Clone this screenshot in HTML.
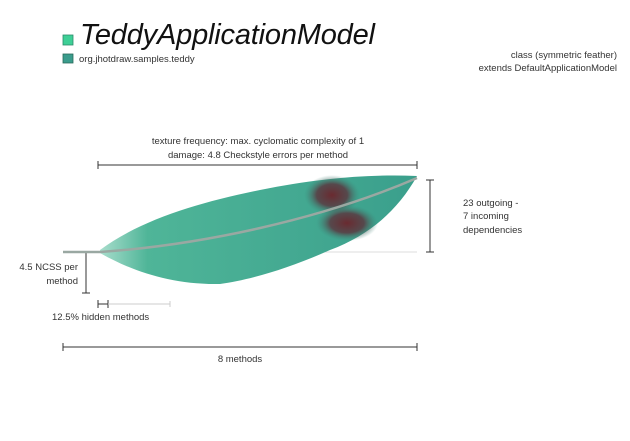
<!DOCTYPE html>
<html><head><style>
body{margin:0;background:#fff;width:630px;height:441px;overflow:hidden;font-family:"Liberation Sans",sans-serif;}
svg{display:block}
</style></head><body>
<svg width="630" height="441" viewBox="0 0 630 441" xmlns="http://www.w3.org/2000/svg">
<defs>
<radialGradient id="sp" cx="50%" cy="50%" r="50%">
<stop offset="0" stop-color="#6a2a30"/><stop offset="0.55" stop-color="#5a3840" stop-opacity="0.85"/><stop offset="1" stop-color="#3a8a7a" stop-opacity="0"/>
</radialGradient>
<linearGradient id="fg" x1="0" x2="1" y1="0" y2="0">
<stop offset="0" stop-color="#a8ddcc"/><stop offset="0.15" stop-color="#4fb598"/><stop offset="1" stop-color="#3a9f8c"/>
</linearGradient>
</defs>
<rect x="63" y="35" width="10" height="10" fill="#3ecf96" stroke="#2a8a6a" stroke-width="0.8"/>
<rect x="63" y="54" width="10" height="9" fill="#3a9c8c" stroke="#2a6a5a" stroke-width="0.8"/>
<text x="80" y="44" font-size="29" font-style="italic" fill="#111" textLength="295">TeddyApplicationModel</text>
<text x="79" y="62" font-size="9.5" fill="#333">org.jhotdraw.samples.teddy</text>
<text x="617" y="58" font-size="9.5" fill="#333" text-anchor="end">class (symmetric feather)</text>
<text x="617" y="71" font-size="9.5" fill="#333" text-anchor="end">extends DefaultApplicationModel</text>
<text x="258" y="144" font-size="9.5" fill="#333" text-anchor="middle">texture frequency: max. cyclomatic complexity of 1</text>
<text x="258" y="158" font-size="9.5" fill="#333" text-anchor="middle">damage: 4.8 Checkstyle errors per method</text>
<g stroke="#333" stroke-width="1" fill="none">
<path d="M98 165H417M98 161v8M417 161v8"/>
<path d="M430 180V252M426 180h8M426 252h8"/>
<path d="M86 252V293M82 293h8"/>
<path d="M98 304H108M98 300v8M108 300v8"/>
<path d="M63 347H417M63 343v8M417 343v8"/>
</g>
<path d="M108 304H170M170 301v6" stroke="#ccc" fill="none"/>
<line x1="100" y1="252" x2="417" y2="252" stroke="#ddd"/>
<path d="M100 250 C140 220 200 202 260 190 C320 178 370 174 417 176 C398 210 370 235 330 250 C290 268 250 280 220 284 C170 285 130 270 100 253 Z" fill="url(#fg)"/>
<ellipse cx="332" cy="195" rx="28" ry="20" fill="url(#sp)"/>
<ellipse cx="347" cy="223" rx="31" ry="18" fill="url(#sp)"/>
<path d="M63 252 L100 252 C200 245 320 220 417 178" stroke="#9aa8a2" stroke-width="2.5" fill="none"/>
<text x="463" y="206" font-size="9.5" fill="#333">23 outgoing -</text>
<text x="463" y="219" font-size="9.5" fill="#333">7 incoming</text>
<text x="463" y="233" font-size="9.5" fill="#333">dependencies</text>
<text x="78" y="270" font-size="9.5" fill="#333" text-anchor="end">4.5 NCSS per</text>
<text x="78" y="284" font-size="9.5" fill="#333" text-anchor="end">method</text>
<text x="52" y="320" font-size="9.5" fill="#333">12.5% hidden methods</text>
<text x="240" y="362" font-size="9.5" fill="#333" text-anchor="middle">8 methods</text>
</svg>
</body></html>
